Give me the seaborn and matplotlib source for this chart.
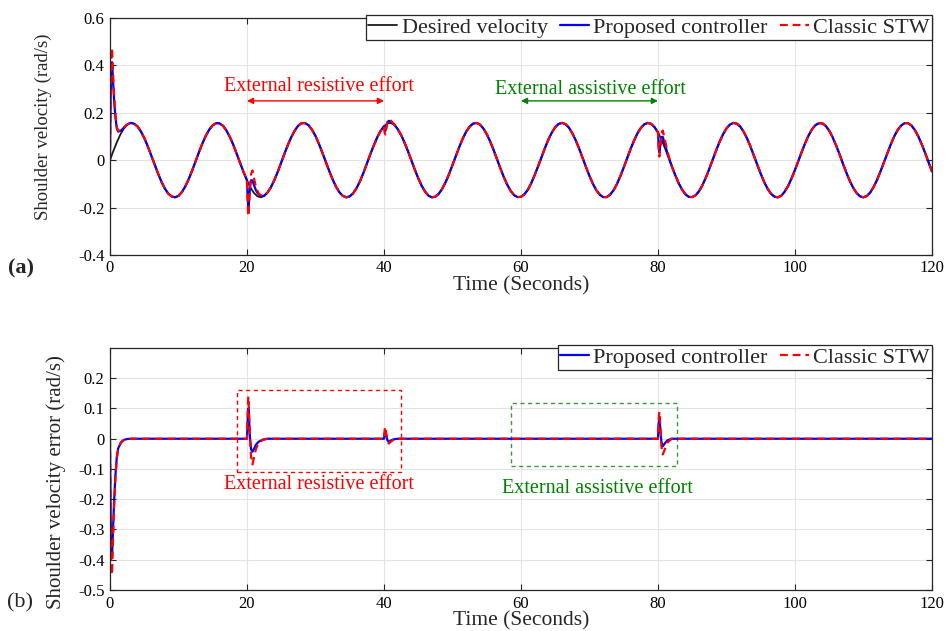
import numpy as np
import pandas as pd
import seaborn as sns
import matplotlib.pyplot as plt
from matplotlib.patches import Rectangle

# desired shoulder velocity, one sample every half second (rad/s)
time_des = np.arange(0, 120.5, 0.5)
vel_des = [0.000, 0.039, 0.075, 0.107, 0.132, 0.149, 0.157, 0.154, 0.143, 0.122,
           0.094, 0.060, 0.022, -0.017, -0.055, -0.090, -0.119, -0.141, -0.153, -0.157,
           -0.151, -0.135, -0.111, -0.080, -0.044, -0.005, 0.034, 0.071, 0.103, 0.129,
           0.147, 0.156, 0.155, 0.145, 0.125, 0.098, 0.065, 0.027, -0.012, -0.050,
           -0.085, -0.115, -0.138, -0.152, -0.157, -0.152, -0.137, -0.114, -0.084, -0.049,
           -0.010, 0.029, 0.066, 0.099, 0.126, 0.146, 0.156, 0.156, 0.147, 0.128,
           0.102, 0.069, 0.032, -0.007, -0.045, -0.081, -0.112, -0.136, -0.151, -0.157,
           -0.153, -0.140, -0.118, -0.089, -0.054, -0.015, 0.024, 0.061, 0.095, 0.123,
           0.143, 0.155, 0.157, 0.149, 0.131, 0.106, 0.074, 0.038, -0.001, -0.040,
           -0.076, -0.108, -0.133, -0.150, -0.157, -0.154, -0.142, -0.121, -0.093, -0.059,
           -0.021, 0.018, 0.056, 0.091, 0.120, 0.141, 0.154, 0.157, 0.150, 0.134,
           0.110, 0.079, 0.043, 0.004, -0.035, -0.072, -0.104, -0.130, -0.148, -0.156,
           -0.155,
           -0.144, -0.125, -0.097, -0.063, -0.026, 0.013, 0.051, 0.087, 0.116, 0.139,
           0.153, 0.157, 0.152, 0.137, 0.113, 0.083, 0.048, 0.009, -0.030, -0.067,
           -0.100, -0.127, -0.146, -0.156, -0.156, -0.146, -0.128, -0.101, -0.068, -0.031,
           0.008, 0.047, 0.082, 0.113, 0.136, 0.151, 0.157, 0.153, 0.139, 0.117,
           0.087, 0.052, 0.014, -0.025, -0.062, -0.096, -0.124, -0.144, -0.155, -0.156,
           -0.148, -0.131, -0.105, -0.073, -0.036, 0.003, 0.042, 0.078, 0.109, 0.134,
           0.150, 0.157, 0.154, 0.142, 0.120, 0.092, 0.057, 0.019, -0.020, -0.058,
           -0.092, -0.121, -0.142, -0.154, -0.157, -0.150, -0.133, -0.109, -0.077, -0.041,
           -0.002, 0.036, 0.073, 0.105, 0.131, 0.148, 0.156, 0.155, 0.144, 0.124,
           0.096, 0.062, 0.025, -0.015, -0.053, -0.088, -0.117, -0.139, -0.153, -0.157,
           -0.151, -0.136, -0.112, -0.082, -0.046, -0.008, 0.031, 0.068, 0.101, 0.128,
           0.146, 0.156, 0.156, 0.146, 0.127, 0.100, 0.067, 0.030, -0.009, -0.048]

# velocity error (desired - actual) around start-up and the external efforts
err_time = [0, 0.1, 0.2, 0.3, 0.45, 0.6, 0.8, 1.0, 1.2, 1.6, 2.0, 2.5, 3.0,
            19.9, 20.0, 20.1, 20.2, 20.3, 20.45, 20.6, 20.8, 21.0, 21.3, 21.7, 22.3, 23.0,
            39.9, 40.0, 40.1, 40.2, 40.35, 40.5, 40.7, 41.0, 41.4, 42.0,
            79.9, 80.0, 80.1, 80.2, 80.35, 80.5, 80.7, 81.0, 81.4, 82.0,
            120]
err_prop = [0, -0.26, -0.37, -0.39, -0.30, -0.21, -0.12, -0.06, -0.032, -0.012, -0.004, -0.001, 0,
            0, 0, 0.06, 0.10, 0.07, 0.0, -0.035, -0.043, -0.035, -0.02, -0.01, -0.003, 0,
            0, 0, 0.018, 0.025, 0.01, -0.005, -0.01, -0.006, -0.002, 0,
            0, 0, 0.05, 0.072, 0.03, -0.01, -0.025, -0.015, -0.005, 0,
            0]
err_stw = [0, -0.30, -0.43, -0.45, -0.33, -0.23, -0.13, -0.065, -0.035, -0.013, -0.005, -0.001, 0,
           0, 0, 0.09, 0.14, 0.09, 0.0, -0.06, -0.085, -0.065, -0.035, -0.014, -0.004, 0,
           0, 0, 0.03, 0.04, 0.015, -0.008, -0.016, -0.01, -0.003, 0,
           0, 0, 0.065, 0.09, 0.04, -0.025, -0.052, -0.035, -0.012, 0,
           0]

xticks = [0, 20, 40, 60, 80, 100, 120]
yticks_a = [-0.4, -0.2, 0, 0.2, 0.4, 0.6]
ylabels_a = ['-0.4', '-0.2', '0', '0.2', '0.4', '0.6']
yticks_b = [-0.5, -0.4, -0.3, -0.2, -0.1, 0, 0.1, 0.2]
ylabels_b = ['-0.5', '-0.4', '-0.3', '-0.2', '-0.1', '0', '0.1', '0.2']

# actual velocities = desired - error
t_all = np.union1d(time_des, err_time)
des_all = np.interp(t_all, time_des, vel_des)
vel_prop = des_all - np.interp(t_all, err_time, err_prop)
vel_stw = des_all - np.interp(t_all, err_time, err_stw)

sns.set_theme(style='whitegrid')
plt.rcParams['font.family'] = ['Liberation Serif', 'DejaVu Serif']
plt.rcParams['axes.unicode_minus'] = False

BLUE = '#0000ff'
RED = '#ff0000'
GREEN = '#008000'
dash = (0, (3.5, 2.2))

fig = plt.figure(figsize=(9.52, 6.31), dpi=100)
ax1 = fig.add_axes([0.1155, 0.596, 0.8635, 0.3756])
ax2 = fig.add_axes([0.1155, 0.065, 0.8635, 0.3835])

# (a) velocity tracking
sns.lineplot(x=time_des, y=vel_des, ax=ax1, color='k', lw=1.3, label='Desired velocity',
             estimator=None, sort=False)
sns.lineplot(x=t_all, y=vel_prop, ax=ax1, color=BLUE, lw=1.6, label='Proposed controller',
             estimator=None, sort=False)
sns.lineplot(x=t_all, y=vel_stw, ax=ax1, color=RED, lw=1.6, label='Classic STW',
             estimator=None, sort=False, linestyle=dash)

# (b) velocity error
sns.lineplot(x=err_time, y=err_prop, ax=ax2, color=BLUE, lw=1.6, label='Proposed controller',
             estimator=None, sort=False)
sns.lineplot(x=err_time, y=err_stw, ax=ax2, color=RED, lw=1.6, label='Classic STW',
             estimator=None, sort=False, linestyle=dash)

for ax, yt, yl, lim in [(ax1, yticks_a, ylabels_a, (-0.4, 0.6)), (ax2, yticks_b, ylabels_b, (-0.5, 0.3))]:
    ax.set_xlim(0, 120)
    ax.set_ylim(*lim)
    ax.set_xticks(xticks)
    ax.set_xticklabels([str(v) for v in xticks])
    ax.set_yticks(yt)
    ax.set_yticklabels(yl)
    ax.grid(True, color='#e3e3e3', lw=0.8)
    for s in ax.spines.values():
        s.set_color('#262626')
        s.set_linewidth(0.9)
    ax.tick_params(direction='in', length=4, width=0.8, colors='#262626', labelsize=12,
                   top=True, right=True, left=True, bottom=True, labelcolor='black', pad=4)
    ax.set_xlabel('Time (Seconds)', fontsize=15.5, labelpad=0)
    leg = ax.legend(loc='upper right', bbox_to_anchor=(1.0, 1.012), borderaxespad=0,
                    ncol=3, fontsize=16, frameon=True, fancybox=False, framealpha=1,
                    handlelength=1.3, handletextpad=0.2, columnspacing=0.55, borderpad=0.1)
    leg.get_frame().set_edgecolor('#262626')
    leg.get_frame().set_linewidth(0.9)

ax1.set_ylabel('Shoulder velocity (rad/s)', fontsize=13.5)
ax1.yaxis.set_label_coords(-0.071, 0.54)
ax2.set_ylabel('Shoulder velocity error (rad/s)', fontsize=15)
ax2.yaxis.set_label_coords(-0.053, 0.446)

# annotations in (a)
ax1.text(30.5, 0.31, 'External resistive effort', color=RED, fontsize=14.5, ha='center', va='center')
ax1.annotate('', xy=(20, 0.25), xytext=(40, 0.25),
             arrowprops=dict(arrowstyle='<|-|>', color=RED, lw=1.0, mutation_scale=9, shrinkA=0, shrinkB=0))
ax1.text(70.2, 0.30, 'External assistive effort', color=GREEN, fontsize=14.5, ha='center', va='center')
ax1.annotate('', xy=(60, 0.25), xytext=(80, 0.25),
             arrowprops=dict(arrowstyle='<|-|>', color=GREEN, lw=1.0, mutation_scale=9, shrinkA=0, shrinkB=0))

# annotations in (b)
ax2.add_patch(Rectangle((18.5, -0.111), 24.0, 0.272, fill=False, ls=(0, (3, 2.5)), ec=RED, lw=1.0))
ax2.text(30.5, -0.151, 'External resistive effort', color=RED, fontsize=14.5, ha='center', va='center')
ax2.add_patch(Rectangle((58.5, -0.089), 24.3, 0.207, fill=False, ls=(0, (3, 2.5)), ec='#3a9a3a', lw=1.0))
ax2.text(71.2, -0.164, 'External assistive effort', color=GREEN, fontsize=14.5, ha='center', va='center')

fig.text(0.008, 0.575, '(a)', fontsize=16, fontweight='bold', ha='left', va='center')
fig.text(0.007, 0.045, '(b)', fontsize=16, ha='left', va='center')

fig.savefig('out.png', dpi=100)
